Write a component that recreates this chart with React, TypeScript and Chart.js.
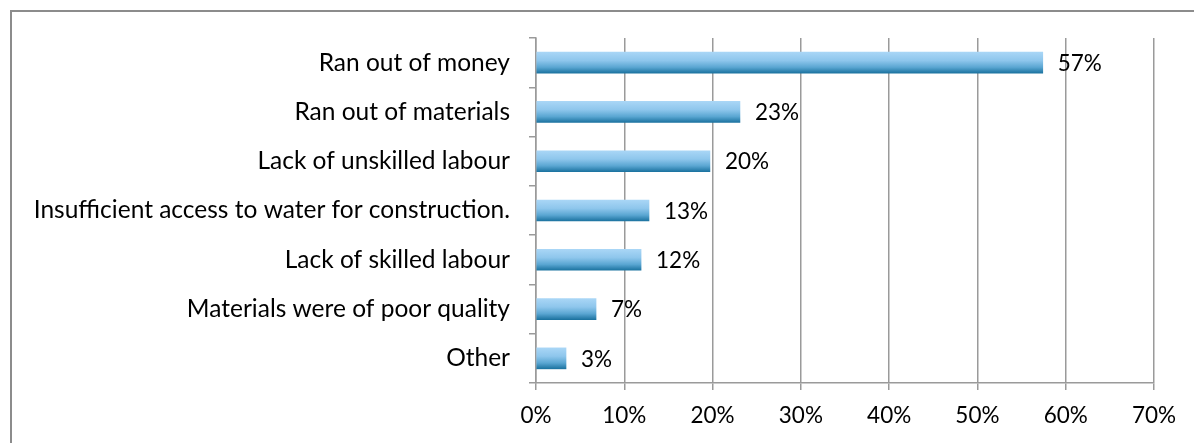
import React, { useEffect, useRef } from "react";
import { Chart, registerables } from "chart.js";

Chart.register(...registerables);

const categories = [
  "Ran out of money",
  "Ran out of materials",
  "Lack of unskilled labour",
  "Insufficient access to water for construction.",
  "Lack of skilled labour",
  "Materials were of poor quality",
  "Other",
];
const values = [0.574, 0.231, 0.197, 0.128, 0.119, 0.068, 0.034];
const valueLabels = ["57%", "23%", "20%", "13%", "12%", "7%", "3%"];
const xTicks = [0, 0.1, 0.2, 0.3, 0.4, 0.5, 0.6, 0.7];

const FONT = "Lato, 'Open Sans', sans-serif";

const gradientPlugin = {
  id: "barGradient",
  beforeDatasetDraw(chart: any, args: any) {
    const ctx = chart.ctx;
    const meta = args.meta;
    meta.data.forEach((el: any) => {
      const { y, height } = el.getProps(["y", "height"], true);
      const top = y - height / 2;
      const g = ctx.createLinearGradient(0, top, 0, top + height);
      g.addColorStop(0, "#a9d6f6");
      g.addColorStop(0.4, "#8ec6ec");
      g.addColorStop(0.72, "#5aa6d2");
      g.addColorStop(1, "#1c73a0");
      el.options = Object.assign({}, el.options, { backgroundColor: g });
    });
  },
};

const labelPlugin = {
  id: "valueLabels",
  afterDatasetsDraw(chart: any) {
    const ctx = chart.ctx;
    const meta = chart.getDatasetMeta(0);
    ctx.save();
    ctx.font = `22.5px ${FONT}`;
    ctx.fillStyle = "#000";
    ctx.textAlign = "left";
    ctx.textBaseline = "middle";
    meta.data.forEach((el: any, i: number) => {
      const { x, y } = el.getProps(["x", "y"], true);
      ctx.fillText(valueLabels[i], x + 15, y + 1);
    });
    ctx.restore();
  },
};

export default function App() {
  const ref = useRef<HTMLCanvasElement | null>(null);
  useEffect(() => {
    if (!ref.current) return;
    const chart = new Chart(ref.current, {
      type: "bar",
      data: {
        labels: categories,
        datasets: [
          {
            data: values,
            backgroundColor: "#8ec6ec",
            barThickness: 21,
          },
        ],
      },
      options: {
        indexAxis: "y",
        animation: false,
        responsive: false,
        maintainAspectRatio: false,
        layout: { padding: { top: 38, right: 40, left: 0, bottom: 0 } },
        plugins: { legend: { display: false }, tooltip: { enabled: false } },
        scales: {
          x: {
            min: 0,
            max: 0.7,
            afterBuildTicks(scale: any) {
              scale.ticks = xTicks.map((v) => ({ value: v }));
            },
            afterFit(scale: any) {
              scale.height = 60;
            },
            grid: {
              color: "#9a9a9a",
              lineWidth: 1.5,
              tickLength: 7,
              drawOnChartArea: true,
            },
            border: { color: "#9a9a9a", width: 1.5 },
            ticks: {
              padding: 12,
              color: "#000",
              font: { family: FONT, size: 22.5 },
              callback: (v: any) => `${Math.round(Number(v) * 100)}%`,
            },
          },
          y: {
            afterFit(scale: any) {
              scale.width = 536;
            },
            grid: {
              color: "#9a9a9a",
              lineWidth: 1.5,
              tickLength: 7,
              drawOnChartArea: false,
              offset: true,
            },
            border: { color: "#9a9a9a", width: 1.5 },
            ticks: {
              padding: 19,
              color: "#000",
              font: { family: FONT, size: 24.5 },
            },
          },
        },
      },
      plugins: [gradientPlugin, labelPlugin],
    });
    return () => chart.destroy();
  }, []);

  return (
    <div style={{ position: "absolute", left: 0, top: 0, width: 1194, height: 443, overflow: "hidden", background: "#fff" }}>
      <div
        style={{
          position: "absolute",
          left: 10,
          top: 10,
          width: 1250,
          height: 500,
          border: "2px solid #8c8c8c",
          boxSizing: "border-box",
        }}
      />
      <canvas ref={ref} width={1194} height={443} style={{ position: "absolute", left: 0, top: 0 }} />
    </div>
  );
}
